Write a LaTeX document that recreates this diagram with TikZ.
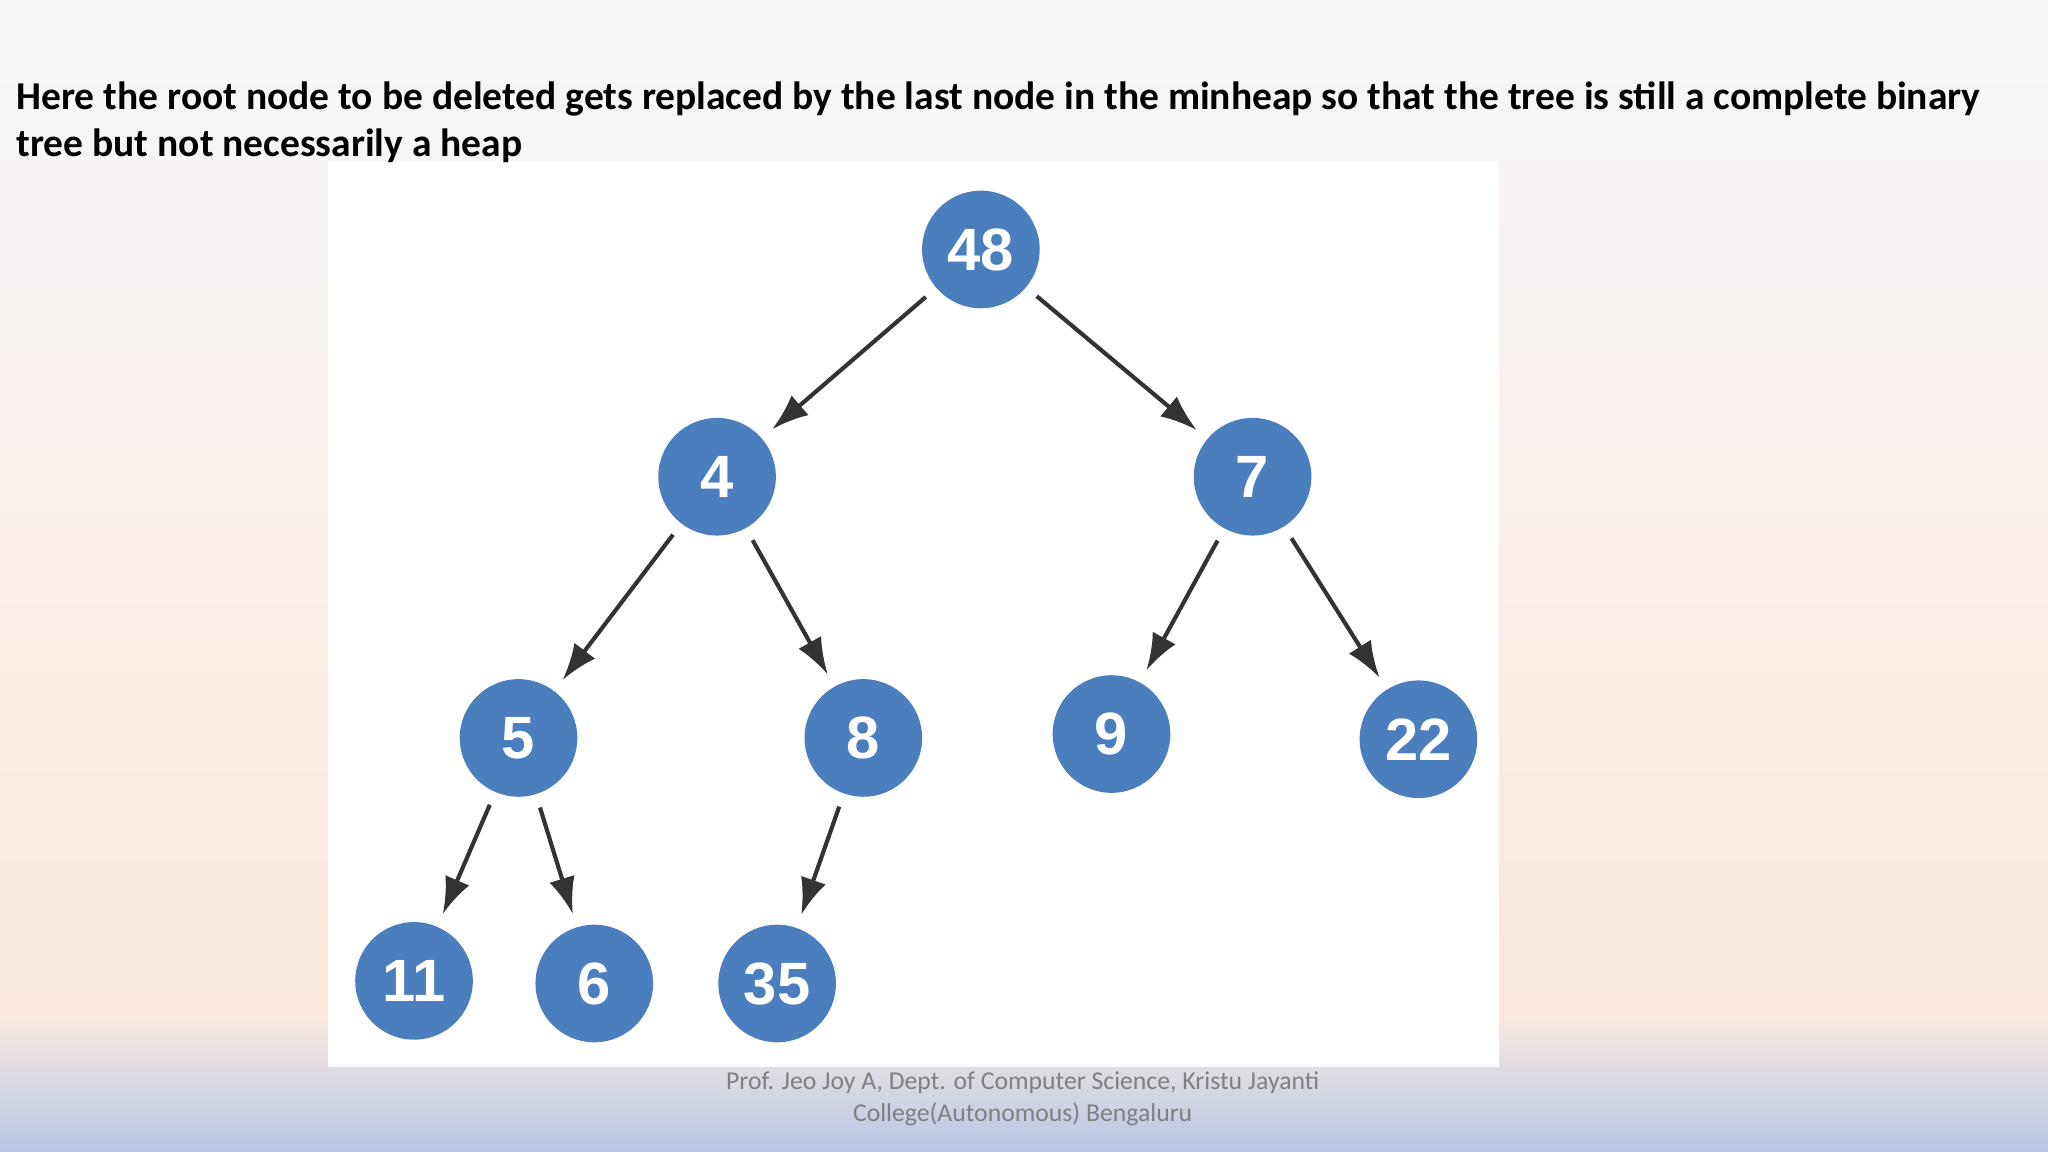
\documentclass[tikz,border=0pt]{standalone}
\usepackage{fontspec}
\usetikzlibrary{arrows.meta}
\setmainfont{Carlito}
\newfontfamily\numfont{Liberation Sans}
\begin{document}
\begin{tikzpicture}[x=0.01cm,y=-0.01cm,
  hn/.style={circle,fill=nodeblue,minimum size=0.9cm,inner sep=0pt,text=white,font=\numfont\bfseries\fontsize{13}{13}\selectfont},
  ar/.style={-{Latex[length=0.28cm,width=0.2cm]},line width=0.9pt,draw=black!80,shorten <=0.1cm,shorten >=0.1cm}]
\definecolor{nodeblue}{HTML}{4A7EBD}
\useasboundingbox (0,0) rectangle (1568,882);
\shade[top color={rgb,255:red,247;green,247;blue,250},bottom color={rgb,255:red,251;green,231;blue,219}] (0,0) rectangle (1568,780);
\shade[top color={rgb,255:red,249;green,232;blue,224},bottom color={rgb,255:red,183;green,199;blue,230}] (0,780) rectangle (1568,882);
\fill[white] (251,123) rectangle (1148,817);
\node[anchor=north west,align=left,font=\bfseries\fontsize{8.6}{10.2}\selectfont,inner sep=0pt] (title) at (12,62)
 {Here the root node to be deleted gets replaced by the last node in the minheap so that the tree is still a complete binary\\tree but not necessarily a heap};
\node[align=center,text=black!50,font=\fontsize{5.6}{7}\selectfont] (foot) at (783,841)
 {Prof. Jeo Joy A, Dept. of Computer Science, Kristu Jayanti\\College(Autonomous) Bengaluru};
\node[hn] (n48) at (751,191) {48};
\node[hn] (n4) at (549,365) {4};
\node[hn] (n7) at (959,365) {7};
\node[hn] (n5) at (397,565) {5};
\node[hn] (n8) at (661,565) {8};
\node[hn] (n9) at (851,562) {9};
\node[hn] (n22) at (1086,566) {22};
\node[hn] (n11) at (317,751) {11};
\node[hn] (n6) at (455,753) {6};
\node[hn] (n35) at (595,753) {35};
\draw[ar] (n48) -- (n4);
\draw[ar] (n48) -- (n7);
\draw[ar] (n4) -- (n5);
\draw[ar] (n4) -- (n8);
\draw[ar] (n7) -- (n9);
\draw[ar] (n7) -- (n22);
\draw[ar] (n5) -- (n11);
\draw[ar] (n5) -- (n6);
\draw[ar] (n8) -- (n35);
\end{tikzpicture}
\end{document}
